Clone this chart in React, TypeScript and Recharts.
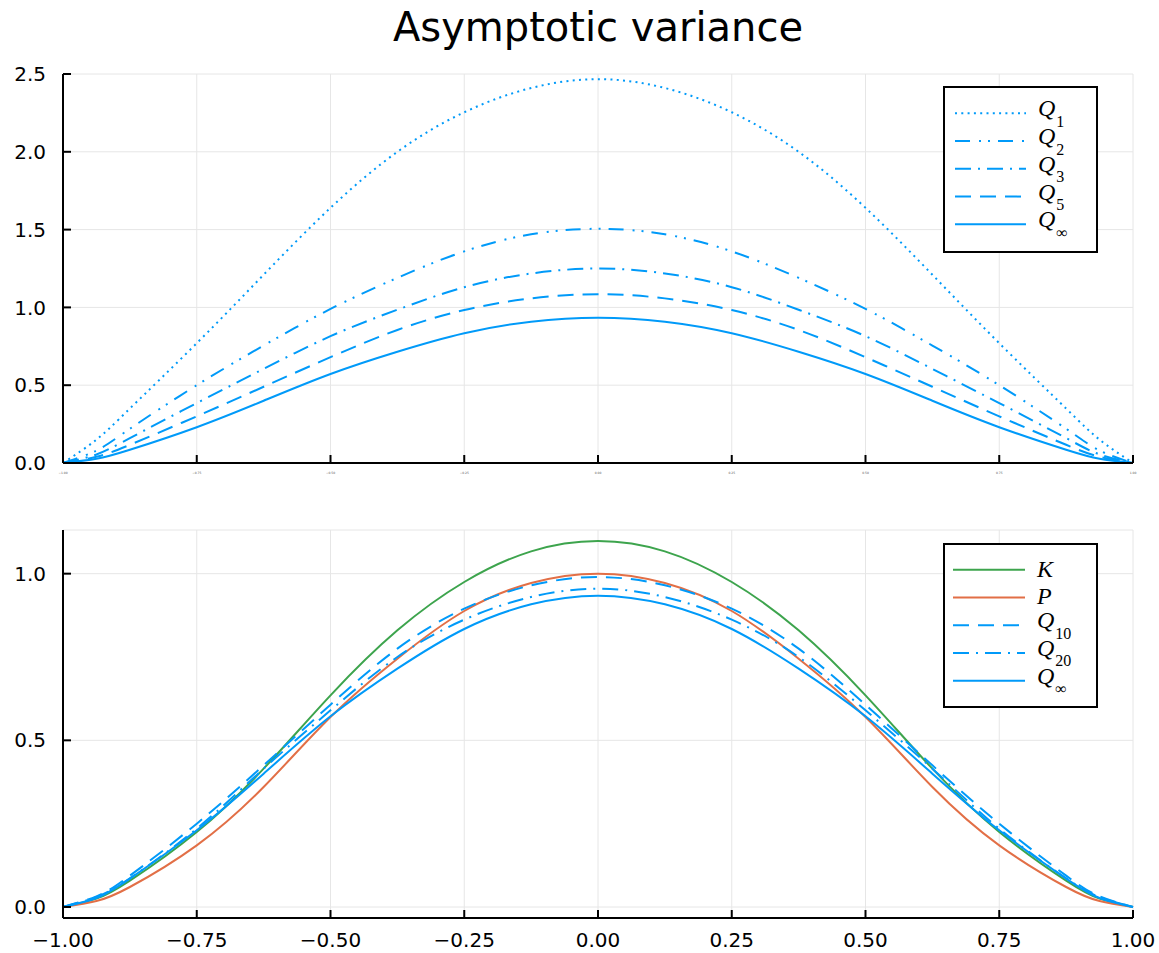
import { LineChart, Line, XAxis, YAxis, CartesianGrid, Legend } from "recharts";

const xs = [-1, -0.9375, -0.875, -0.75, -0.625, -0.5, -0.375, -0.25, -0.125, 0, 0.125, 0.25, 0.375, 0.5, 0.625, 0.75, 0.875, 0.9375, 1];

// top panel
const q1 = [0, 0.15, 0.35, 0.77, 1.21, 1.64, 2.0, 2.254, 2.41, 2.467, 2.41, 2.254, 2.0, 1.64, 1.21, 0.77, 0.35, 0.15, 0];
const q2 = [0, 0.08, 0.22, 0.5, 0.755, 0.99, 1.19, 1.36, 1.47, 1.505, 1.47, 1.36, 1.19, 0.99, 0.755, 0.5, 0.22, 0.08, 0];
const q3 = [0, 0.055, 0.16, 0.385, 0.605, 0.815, 0.985, 1.13, 1.218, 1.25, 1.218, 1.13, 0.985, 0.815, 0.605, 0.385, 0.16, 0.055, 0];
const q5 = [0, 0.04, 0.117, 0.3, 0.49, 0.68, 0.855, 0.983, 1.058, 1.085, 1.058, 0.983, 0.855, 0.68, 0.49, 0.3, 0.117, 0.04, 0];
const qInf = [0, 0.027, 0.085, 0.23, 0.4, 0.572, 0.715, 0.834, 0.908, 0.934, 0.908, 0.834, 0.715, 0.572, 0.4, 0.23, 0.085, 0.027, 0];

// bottom panel
const kVals = [0, 0.025, 0.079, 0.225, 0.415, 0.635, 0.83, 0.975, 1.067, 1.098, 1.067, 0.975, 0.83, 0.635, 0.415, 0.225, 0.079, 0.025, 0];
const pVals = [0, 0.018, 0.06, 0.185, 0.36, 0.57, 0.745, 0.888, 0.972, 1.0, 0.972, 0.888, 0.745, 0.57, 0.36, 0.185, 0.06, 0.018, 0];
const q10 = [0, 0.032, 0.094, 0.25, 0.425, 0.607, 0.775, 0.895, 0.965, 0.99, 0.965, 0.895, 0.775, 0.607, 0.425, 0.25, 0.094, 0.032, 0];
const q20 = [0, 0.03, 0.086, 0.235, 0.415, 0.59, 0.75, 0.862, 0.93, 0.955, 0.93, 0.862, 0.75, 0.59, 0.415, 0.235, 0.086, 0.03, 0];

const xTicks = [-1, -0.75, -0.5, -0.25, 0, 0.25, 0.5, 0.75, 1];
const topYTicks = [0, 0.5, 1, 1.5, 2, 2.5];
const bottomYTicks = [0, 0.5, 1];

const BLUE = "#009af9";
const ORANGE = "#e26f46";
const GREEN = "#3da44d";

const DOT = "2 4.3";
const DASHDOTDOT = "15 9 2 7 2 8";
const DASHDOT = "16 7 2 7";
const DASH = "16 9";

const topData = xs.map((x, i) => ({ x, q1: q1[i], q2: q2[i], q3: q3[i], q5: q5[i], qinf: qInf[i] }));
const bottomData = xs.map((x, i) => ({ x, k: kVals[i], p: pVals[i], q10: q10[i], q20: q20[i], qinf: qInf[i] }));

const topSeries = [
  { key: "q1", name: "Q", sub: "1", color: BLUE, dash: DOT },
  { key: "q2", name: "Q", sub: "2", color: BLUE, dash: DASHDOTDOT },
  { key: "q3", name: "Q", sub: "3", color: BLUE, dash: DASHDOT },
  { key: "q5", name: "Q", sub: "5", color: BLUE, dash: DASH },
  { key: "qinf", name: "Q", sub: "∞", color: BLUE, dash: undefined },
];

const bottomSeries = [
  { key: "k", name: "K", sub: "", color: GREEN, dash: undefined },
  { key: "p", name: "P", sub: "", color: ORANGE, dash: undefined },
  { key: "q10", name: "Q", sub: "10", color: BLUE, dash: DASH },
  { key: "q20", name: "Q", sub: "20", color: BLUE, dash: DASHDOT },
  { key: "qinf", name: "Q", sub: "∞", color: BLUE, dash: undefined },
];

const FONT = "DejaVu Sans, sans-serif";
const fmtX = (v: number) => (v < 0 ? "\u2212" + Math.abs(v).toFixed(2) : v.toFixed(2));
const fmtY = (v: number) => v.toFixed(1);

function LegendBox({ items, w, h, lineX1, lineX2, textX, firstY }: any) {
  return (
    <svg width={w} height={h} style={{ display: "block" }}>
      <rect x={1} y={1} width={w - 2} height={h - 2} fill="#fff" stroke="#000" strokeWidth={2} />
      {items.map((s: any, i: number) => {
        const cy = firstY + i * 27.75;
        return (
          <g key={s.key}>
            <line x1={lineX1} x2={lineX2} y1={cy} y2={cy} stroke={s.color} strokeWidth={2} strokeDasharray={s.dash} />
            <text
              x={textX}
              y={cy + (s.sub ? 3 : 7)}
              fontFamily="Liberation Serif, serif"
              fontStyle="italic"
              fontSize={24}
              fill="#000"
            >
              {s.name}
              {s.sub ? (
                <tspan dx={1} dy={10.5} fontStyle="normal" fontSize={16}>
                  {s.sub}
                </tspan>
              ) : null}
            </text>
          </g>
        );
      })}
    </svg>
  );
}

const axisStroke = { stroke: "#000", strokeWidth: 2 };

export default function App() {
  return (
    <div style={{ position: "absolute", left: 0, top: 0, width: 1159, height: 953, background: "#fff", fontFamily: FONT }}>
      <div
        style={{
          position: "absolute",
          left: 63,
          width: 1070,
          top: 4,
          textAlign: "center",
          fontSize: 40,
          fontFamily: FONT,
          color: "#000",
        }}
      >
        Asymptotic variance
      </div>

      <div style={{ position: "absolute", left: 0, top: 0 }}>
        <LineChart width={1159} height={490} data={topData} margin={{ top: 74, right: 26, bottom: 0, left: 0 }}>
          <CartesianGrid stroke="#e6e6e6" strokeWidth={1} />
          <XAxis
            dataKey="x"
            type="number"
            domain={[-1, 1]}
            ticks={xTicks}
            tickFormatter={fmtX}
            height={27}
            tickSize={-8}
            tickMargin={17}
            axisLine={axisStroke}
            tickLine={axisStroke}
            tick={{ fontSize: 3, fill: "#555", fontFamily: FONT }}
          />
          <YAxis
            type="number"
            domain={[0, 2.5]}
            ticks={topYTicks}
            tickFormatter={fmtY}
            width={63}
            tickSize={-8}
            tickMargin={25}
            axisLine={axisStroke}
            tickLine={axisStroke}
            tick={{ fontSize: 20, fill: "#000", fontFamily: FONT }}
          />
          <Legend
            layout="vertical"
            align="center"
            verticalAlign="middle"
            wrapperStyle={{ left: 943, top: 86, width: 155, height: 167 }}
            content={() => (
              <LegendBox items={topSeries} w={155} h={167} lineX1={12} lineX2={83} textX={95} firstY={27.3} />
            )}
          />
          {topSeries.map((s) => (
            <Line
              key={s.key}
              type="natural"
              dataKey={s.key}
              stroke={s.color}
              strokeWidth={2}
              strokeDasharray={s.dash}
              dot={false}
              isAnimationActive={false}
            />
          ))}
        </LineChart>
      </div>

      <div style={{ position: "absolute", left: 0, top: 490 }}>
        <LineChart width={1159} height={463} data={bottomData} margin={{ top: 40, right: 26, bottom: 0, left: 0 }}>
          <CartesianGrid stroke="#e6e6e6" strokeWidth={1} />
          <XAxis
            dataKey="x"
            type="number"
            domain={[-1, 1]}
            ticks={xTicks}
            tickFormatter={fmtX}
            height={35}
            tickSize={-8}
            tickMargin={23}
            axisLine={axisStroke}
            tickLine={axisStroke}
            tick={{ fontSize: 20, fill: "#000", fontFamily: FONT }}
          />
          <YAxis
            type="number"
            domain={[-0.033, 1.131]}
            allowDataOverflow
            ticks={bottomYTicks}
            tickFormatter={fmtY}
            width={63}
            tickSize={-8}
            tickMargin={25}
            axisLine={axisStroke}
            tickLine={axisStroke}
            tick={{ fontSize: 20, fill: "#000", fontFamily: FONT }}
          />
          <Legend
            layout="vertical"
            align="center"
            verticalAlign="middle"
            wrapperStyle={{ left: 943, top: 53, width: 155, height: 165 }}
            content={() => (
              <LegendBox items={bottomSeries} w={155} h={165} lineX1={10} lineX2={82} textX={94} firstY={26.7} />
            )}
          />
          {bottomSeries.map((s) => (
            <Line
              key={s.key}
              type="natural"
              dataKey={s.key}
              stroke={s.color}
              strokeWidth={2}
              strokeDasharray={s.dash}
              dot={false}
              isAnimationActive={false}
            />
          ))}
        </LineChart>
      </div>
    </div>
  );
}
